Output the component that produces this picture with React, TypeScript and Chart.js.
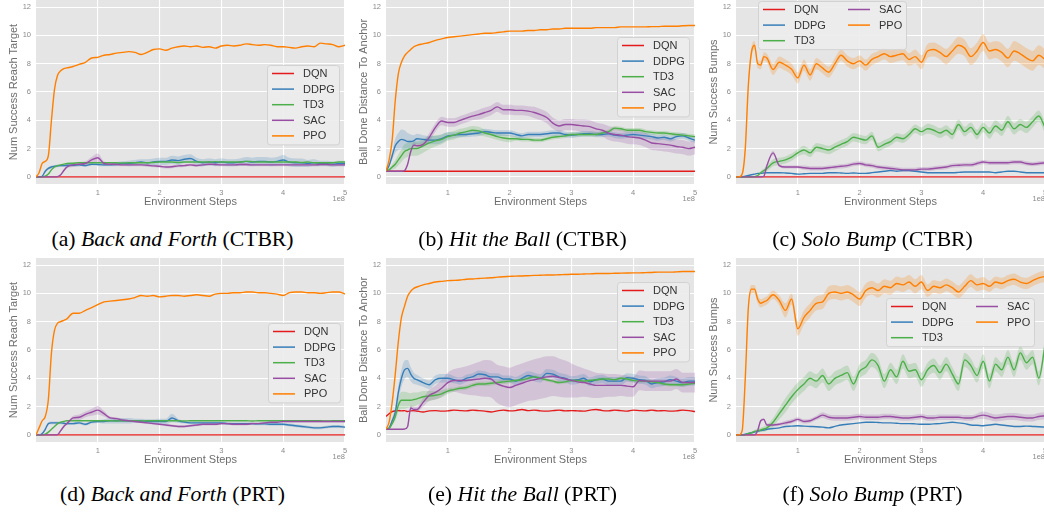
import React, { useEffect, useRef } from "react";
import { Chart, registerables } from "chart.js";

Chart.register(...registerables);

const SANS = '"Liberation Sans", Arial, sans-serif';
const SERIF = '"Liberation Serif", "Times New Roman", serif';
Chart.defaults.font.family = SANS;

// ---------- data ----------
const STEPS = [0, 0.05, 0.1, 0.15, 0.2, 0.25, 0.3, 0.35, 0.4, 0.45, 0.5,
  0.6, 0.7, 0.8, 0.9, 1.0,
  1.1, 1.2, 1.3, 1.4, 1.5, 1.6, 1.7, 1.8, 1.9, 2.0,
  2.1, 2.2, 2.3, 2.4, 2.5, 2.6, 2.7, 2.8, 2.9, 3.0,
  3.1, 3.2, 3.3, 3.4, 3.5, 3.6, 3.7, 3.8, 3.9, 4.0,
  4.1, 4.2, 4.3, 4.4, 4.5, 4.6, 4.7, 4.8, 4.9, 5.0];
const FLAT_STEPS = [0, 5];
const X_TICKS = [1, 2, 3, 4, 5];
const Y_TICKS = [0, 2, 4, 6, 8, 10, 12];
const ALGORITHMS = ["DQN", "DDPG", "TD3", "SAC", "PPO"];

// (a) Back and Forth (CTBR)
const A_DQN = [0, 0];
const A_DDPG = [0, 0, 0.05, 0.4, 0.6, 0.7, 0.75, 0.78, 0.8, 0.8, 0.82,
  0.82, 0.85, 0.8, 0.9, 0.88,
  0.85, 0.85, 0.9, 0.95, 0.95, 1.0, 1.05, 1.0, 1.05, 1.1,
  1.1, 1.2, 1.15, 1.25, 1.3, 1.1, 1.0, 1.05, 1.0, 1.05,
  1.0, 1.0, 1.05, 1.1, 1.05, 1.1, 1.1, 1.05, 1.1, 1.2,
  1.05, 1.0, 1.0, 0.95, 1.0, 0.95, 0.95, 0.9, 0.95, 0.95];
const A_DDPG_SD = [0, 0, 0.02, 0.1, 0.1, 0.1, 0.1, 0.1, 0.1, 0.1, 0.1,
  0.1, 0.1, 0.1, 0.1, 0.1,
  0.1, 0.1, 0.15, 0.15, 0.2, 0.2, 0.2, 0.25, 0.25, 0.25,
  0.25, 0.3, 0.3, 0.3, 0.3, 0.25, 0.25, 0.25, 0.25, 0.25,
  0.25, 0.25, 0.25, 0.3, 0.3, 0.3, 0.3, 0.3, 0.3, 0.35,
  0.3, 0.3, 0.3, 0.25, 0.25, 0.2, 0.2, 0.2, 0.2, 0.2];
const A_TD3 = [0, 0, 0, 0.05, 0.2, 0.5, 0.7, 0.8, 0.85, 0.9, 0.95,
  0.97, 1.0, 1.0, 1.0, 1.0,
  1.0, 1.0, 1.0, 0.98, 1.0, 1.0, 1.0, 1.0, 1.02, 1.05,
  1.05, 1.05, 1.02, 1.05, 1.05, 1.05, 1.05, 1.05, 1.08, 1.05,
  1.05, 1.05, 1.05, 1.1, 1.08, 1.05, 1.05, 1.05, 1.05, 1.05,
  1.05, 1.05, 1.02, 1.05, 1.0, 1.0, 1.0, 1.0, 1.05, 1.05];
const A_SAC = [0, 0, 0, 0, 0, 0, 0, 0.02, 0.15, 0.45, 0.7,
  0.85, 0.9, 0.95, 1.2, 1.35,
  0.95, 0.9, 0.88, 0.85, 0.85, 0.85, 0.85, 0.82, 0.78, 0.75,
  0.7, 0.72, 0.78, 0.8, 0.85, 0.8, 0.85, 0.9, 0.88, 0.85,
  0.85, 0.85, 0.88, 0.88, 0.85, 0.85, 0.85, 0.85, 0.85, 0.85,
  0.85, 0.85, 0.85, 0.85, 0.85, 0.88, 0.88, 0.85, 0.85, 0.85];
const A_SAC_SD = [0, 0, 0, 0, 0, 0, 0, 0, 0.05, 0.1, 0.1,
  0.15, 0.15, 0.15, 0.2, 0.3,
  0.15, 0.1, 0.1, 0.1, 0.1, 0.1, 0.1, 0.1, 0.1, 0.1,
  0.1, 0.1, 0.1, 0.1, 0.1, 0.1, 0.1, 0.1, 0.1, 0.1,
  0.1, 0.1, 0.1, 0.1, 0.1, 0.1, 0.1, 0.1, 0.1, 0.1,
  0.1, 0.1, 0.1, 0.1, 0.1, 0.1, 0.1, 0.1, 0.1, 0.1];
const A_PPO = [0, 0.3, 0.95, 1.1, 1.5, 4.0, 6.2, 7.2, 7.5, 7.65, 7.7,
  7.8, 7.95, 8.1, 8.4, 8.45,
  8.6, 8.65, 8.75, 8.8, 8.85, 8.8, 8.65, 8.8, 9.0, 9.05,
  8.95, 9.1, 9.2, 9.25, 9.2, 9.25, 9.15, 9.2, 9.1, 9.25,
  9.3, 9.25, 9.3, 9.4, 9.35, 9.3, 9.35, 9.3, 9.2, 9.2,
  9.15, 9.1, 9.2, 9.25, 9.2, 9.45, 9.4, 9.35, 9.2, 9.3];

// (b) Hit the Ball (CTBR)
const B_DQN = [0.4, 0.4];
const B_DDPG = [0.4, 0.8, 1.5, 2.2, 2.5, 2.65, 2.6, 2.5, 2.5, 2.55, 2.7,
  2.65, 2.6, 2.6, 2.7, 2.9,
  2.95, 3.0, 3.0, 3.05, 3.1, 3.2, 3.15, 3.1, 3.1, 3.1,
  3.0, 2.9, 3.0, 3.0, 3.0, 3.05, 3.1, 3.1, 3.0, 2.95,
  3.0, 3.05, 3.05, 3.0, 3.0, 3.05, 2.95, 2.9, 2.95, 3.0,
  2.95, 2.9, 2.85, 2.75, 2.8, 2.7, 2.85, 2.9, 2.75, 2.6];
const B_DDPG_SD = [0, 0.1, 0.3, 0.5, 0.6, 0.7, 0.7, 0.6, 0.5, 0.4, 0.35,
  0.3, 0.3, 0.3, 0.3, 0.25,
  0.2, 0.2, 0.2, 0.2, 0.2, 0.2, 0.2, 0.2, 0.2, 0.2,
  0.2, 0.2, 0.2, 0.2, 0.2, 0.2, 0.2, 0.2, 0.2, 0.2,
  0.2, 0.2, 0.2, 0.2, 0.2, 0.2, 0.2, 0.2, 0.2, 0.2,
  0.2, 0.2, 0.2, 0.2, 0.2, 0.2, 0.2, 0.2, 0.2, 0.2];
const B_TD3 = [0.4, 0.5, 0.7, 0.9, 1.2, 1.5, 1.8, 1.9, 2.0, 2.0, 2.0,
  2.2, 2.4, 2.55, 2.65, 2.85,
  2.95, 3.1, 3.2, 3.3, 3.25, 3.1, 3.0, 2.85, 2.75, 2.7,
  2.7, 2.65, 2.65, 2.6, 2.6, 2.7, 2.8, 2.85, 2.9, 3.0,
  3.0, 3.0, 3.0, 3.0, 3.1, 3.2, 3.45, 3.4, 3.3, 3.3,
  3.3, 3.2, 3.15, 3.1, 3.1, 3.05, 3.0, 2.95, 2.9, 2.85];
const B_TD3_SD = [0, 0.1, 0.2, 0.3, 0.4, 0.45, 0.5, 0.5, 0.5, 0.5, 0.5,
  0.5, 0.45, 0.4, 0.35, 0.3,
  0.3, 0.3, 0.3, 0.3, 0.3, 0.25, 0.25, 0.25, 0.25, 0.25,
  0.15, 0.15, 0.15, 0.15, 0.15, 0.15, 0.15, 0.15, 0.15, 0.15,
  0.15, 0.15, 0.15, 0.15, 0.15, 0.15, 0.15, 0.15, 0.15, 0.15,
  0.15, 0.15, 0.15, 0.15, 0.15, 0.15, 0.15, 0.15, 0.15, 0.15];
const B_SAC = [0.4, 0.4, 0.4, 0.4, 0.4, 0.4, 0.45, 0.9, 1.8, 2.25, 2.2,
  2.3, 2.8, 3.5, 3.95, 3.85,
  3.85, 4.0, 4.15, 4.3, 4.4, 4.55, 4.7, 4.95, 4.75, 4.75,
  4.7, 4.7, 4.65, 4.55, 4.4, 4.2, 3.8, 3.6, 3.7, 3.7,
  3.65, 3.6, 3.55, 3.4, 3.3, 3.1, 3.0, 2.95, 2.85, 2.8,
  2.75, 2.6, 2.4, 2.35, 2.3, 2.25, 2.15, 2.1, 2.0, 2.1];
const B_SAC_SD = [0, 0, 0, 0, 0, 0, 0, 0.1, 0.2, 0.2, 0.2,
  0.2, 0.3, 0.3, 0.3, 0.3,
  0.3, 0.3, 0.3, 0.3, 0.35, 0.35, 0.35, 0.35, 0.35, 0.35,
  0.35, 0.35, 0.35, 0.4, 0.4, 0.4, 0.4, 0.4, 0.4, 0.4,
  0.4, 0.45, 0.45, 0.45, 0.45, 0.5, 0.5, 0.5, 0.5, 0.5,
  0.5, 0.5, 0.5, 0.5, 0.5, 0.5, 0.5, 0.5, 0.5, 0.5];
const B_PPO = [0.4, 1.2, 2.6, 5.4, 7.3, 8.1, 8.55, 8.8, 9.0, 9.2, 9.3,
  9.4, 9.5, 9.65, 9.75, 9.85,
  9.9, 9.95, 10.0, 10.05, 10.1, 10.15, 10.15, 10.2, 10.25, 10.3,
  10.3, 10.3, 10.35, 10.35, 10.4, 10.4, 10.45, 10.45, 10.5, 10.5,
  10.5, 10.5, 10.5, 10.55, 10.55, 10.55, 10.55, 10.6, 10.6, 10.6,
  10.6, 10.6, 10.62, 10.62, 10.65, 10.65, 10.65, 10.68, 10.7, 10.7];

// (c) Solo Bump (CTBR)
const C_DQN = [0, 0];
const C_DDPG = [0, 0, 0, 0.05, 0.1, 0.15, 0.2, 0.25, 0.25, 0.28, 0.3,
  0.3, 0.3, 0.28, 0.25, 0.2,
  0.22, 0.25, 0.25, 0.25, 0.3, 0.3, 0.28, 0.25, 0.28, 0.25,
  0.25, 0.3, 0.35, 0.4, 0.45, 0.4, 0.45, 0.45, 0.4, 0.35,
  0.3, 0.3, 0.3, 0.3, 0.3, 0.32, 0.35, 0.35, 0.35, 0.35,
  0.35, 0.3, 0.35, 0.4, 0.4, 0.35, 0.3, 0.3, 0.3, 0.3];
const C_TD3 = [0, 0, 0, 0, 0, 0, 0.02, 0.1, 0.3, 0.45, 0.6,
  1.0, 1.1, 1.2, 1.4, 1.7,
  1.9, 1.7, 2.1, 2.0, 1.9, 2.1, 2.3, 2.5, 2.8, 2.7,
  2.6, 2.9, 2.1, 2.3, 2.5, 2.8, 2.7, 3.0, 3.4, 3.2,
  3.4, 3.3, 3.1, 3.3, 3.0, 3.7, 3.2, 3.5, 3.0, 3.5,
  3.1, 3.6, 3.3, 3.9, 3.4, 3.7, 3.5, 3.9, 4.3, 3.5];
const C_TD3_SD = [0, 0, 0, 0, 0, 0, 0, 0.05, 0.1, 0.15, 0.2,
  0.25, 0.25, 0.25, 0.25, 0.25,
  0.3, 0.3, 0.3, 0.3, 0.3, 0.3, 0.3, 0.3, 0.3, 0.3,
  0.3, 0.3, 0.3, 0.3, 0.3, 0.3, 0.3, 0.3, 0.3, 0.3,
  0.35, 0.35, 0.35, 0.35, 0.35, 0.35, 0.35, 0.35, 0.35, 0.35,
  0.4, 0.4, 0.4, 0.4, 0.4, 0.4, 0.4, 0.4, 0.4, 0.4];
const C_SAC = [0, 0, 0, 0, 0, 0, 0, 0, 0, 0.05, 0.8,
  1.7, 0.8, 0.7, 0.7, 0.7,
  0.65, 0.6, 0.6, 0.6, 0.65, 0.7, 0.75, 0.8, 0.9, 0.95,
  0.85, 0.8, 0.7, 0.65, 0.6, 0.55, 0.5, 0.5, 0.5, 0.55,
  0.55, 0.6, 0.65, 0.7, 0.8, 0.82, 0.85, 0.85, 0.95, 1.05,
  1.0, 1.0, 1.0, 1.0, 1.05, 1.05, 0.95, 0.9, 0.95, 1.0];
const C_SAC_SD = [0, 0, 0, 0, 0, 0, 0, 0, 0, 0, 0.05,
  0.15, 0.1, 0.1, 0.1, 0.1,
  0.15, 0.15, 0.15, 0.15, 0.15, 0.15, 0.15, 0.15, 0.15, 0.15,
  0.15, 0.15, 0.15, 0.15, 0.15, 0.15, 0.15, 0.15, 0.15, 0.15,
  0.15, 0.15, 0.15, 0.15, 0.15, 0.15, 0.15, 0.15, 0.15, 0.15,
  0.15, 0.15, 0.15, 0.15, 0.15, 0.15, 0.15, 0.15, 0.15, 0.15];
const C_PPO = [0, 0, 0.2, 2.0, 6.5, 8.8, 9.3, 8.0, 7.9, 8.5, 8.4,
  7.6, 8.1, 7.9, 7.6, 7.0,
  7.9, 7.2, 8.0, 7.7, 7.4, 8.0, 8.6, 8.2, 8.0, 8.2,
  7.9, 8.3, 8.5, 8.7, 8.5, 8.6, 8.7, 8.3, 8.5, 8.1,
  8.9, 9.0, 8.8, 8.5, 8.9, 9.3, 9.1, 8.5, 8.9, 9.5,
  8.9, 9.0, 8.8, 8.4, 8.9, 8.7, 8.4, 8.2, 8.6, 8.3];
const C_PPO_SD = [0, 0, 0.1, 0.3, 0.4, 0.4, 0.3, 0.3, 0.3, 0.3, 0.3,
  0.4, 0.4, 0.4, 0.4, 0.4,
  0.4, 0.4, 0.4, 0.4, 0.4, 0.4, 0.4, 0.4, 0.4, 0.4,
  0.4, 0.4, 0.4, 0.4, 0.45, 0.45, 0.45, 0.45, 0.5, 0.5,
  0.5, 0.5, 0.5, 0.55, 0.55, 0.6, 0.6, 0.6, 0.6, 0.6,
  0.6, 0.6, 0.65, 0.65, 0.7, 0.7, 0.7, 0.7, 0.7, 0.7];

// (d) Back and Forth (PRT)
const D_DQN = [0, 0];
const D_DDPG = [0, 0, 0.1, 0.4, 0.8, 0.85, 0.85, 0.85, 0.85, 0.82, 0.8,
  0.8, 0.85, 0.75, 0.9, 0.95,
  0.95, 1.0, 1.0, 1.0, 1.0, 1.0, 1.0, 0.95, 0.95, 0.95,
  0.95, 1.2, 1.0, 0.9, 0.85, 0.85, 0.85, 0.85, 0.85, 0.85,
  0.8, 0.8, 0.8, 0.8, 0.8, 0.78, 0.78, 0.75, 0.75, 0.75,
  0.7, 0.65, 0.6, 0.55, 0.5, 0.5, 0.55, 0.6, 0.6, 0.55];
const D_DDPG_SD = [0, 0, 0.05, 0.1, 0.1, 0.1, 0.1, 0.1, 0.1, 0.1, 0.1,
  0.1, 0.1, 0.1, 0.1, 0.1,
  0.15, 0.2, 0.2, 0.2, 0.2, 0.15, 0.15, 0.15, 0.15, 0.2,
  0.2, 0.3, 0.15, 0.1, 0.1, 0.1, 0.1, 0.1, 0.1, 0.1,
  0.1, 0.1, 0.1, 0.1, 0.1, 0.1, 0.1, 0.1, 0.1, 0.1,
  0.1, 0.1, 0.1, 0.1, 0.1, 0.1, 0.1, 0.1, 0.1, 0.1];
const D_TD3 = [0, 0, 0, 0.05, 0.2, 0.4, 0.6, 0.8, 0.9, 0.95, 1.0,
  1.0, 1.0, 1.0, 1.0, 1.0,
  1.0, 1.0, 0.98, 1.0, 1.0, 1.0, 0.98, 1.0, 1.0, 1.0,
  1.0, 1.0, 1.0, 0.98, 1.0, 1.0, 1.0, 1.0, 1.0, 1.0,
  1.0, 1.0, 1.0, 1.0, 0.98, 1.0, 1.0, 1.0, 1.0, 1.0,
  1.0, 1.0, 1.0, 1.0, 1.0, 1.0, 0.98, 1.0, 1.0, 1.0];
const D_SAC = [0, 0, 0, 0, 0, 0, 0, 0.02, 0.3, 0.6, 0.8,
  1.2, 1.25, 1.45, 1.6, 1.75,
  1.5, 1.2, 1.15, 1.05, 1.0, 0.95, 0.9, 0.85, 0.8, 0.75,
  0.7, 0.65, 0.6, 0.6, 0.65, 0.7, 0.75, 0.75, 0.75, 0.8,
  0.8, 0.75, 0.75, 0.75, 0.8, 0.8, 0.85, 0.9, 0.9, 0.95,
  0.95, 0.95, 0.95, 0.95, 0.95, 0.95, 0.95, 0.95, 0.95, 0.95];
const D_SAC_SD = [0, 0, 0, 0, 0, 0, 0, 0, 0.05, 0.1, 0.1,
  0.15, 0.2, 0.2, 0.25, 0.3,
  0.2, 0.1, 0.1, 0.1, 0.08, 0.08, 0.08, 0.08, 0.08, 0.08,
  0.08, 0.08, 0.08, 0.08, 0.08, 0.08, 0.08, 0.08, 0.08, 0.08,
  0.08, 0.08, 0.08, 0.08, 0.08, 0.08, 0.08, 0.08, 0.08, 0.08,
  0.08, 0.08, 0.08, 0.08, 0.08, 0.08, 0.08, 0.08, 0.08, 0.08];
const D_PPO = [0, 0.5, 1.0, 1.3, 2.5, 5.8, 7.4, 7.9, 8.0, 8.1, 8.2,
  8.6, 8.6, 8.8, 9.0, 9.2,
  9.4, 9.45, 9.5, 9.55, 9.6, 9.7, 9.85, 9.8, 9.85, 9.75,
  9.8, 9.85, 9.85, 9.8, 9.85, 9.9, 9.85, 9.8, 9.95, 10.0,
  10.0, 10.05, 10.05, 10.1, 10.1, 10.05, 10.05, 10.0, 9.95, 9.85,
  10.05, 10.1, 10.1, 10.05, 10.05, 10.0, 10.05, 10.1, 10.1, 9.95];

// (e) Hit the Ball (PRT)
const E_DQN = [1.3, 1.5, 1.65, 1.7, 1.72, 1.7, 1.72, 1.65, 1.7, 1.72, 1.68,
  1.62, 1.7, 1.72, 1.68, 1.7,
  1.75, 1.72, 1.7, 1.75, 1.72, 1.68, 1.62, 1.7, 1.75, 1.7,
  1.72, 1.8, 1.72, 1.75, 1.7, 1.68, 1.72, 1.75, 1.7, 1.72,
  1.7, 1.68, 1.75, 1.8, 1.72, 1.7, 1.75, 1.72, 1.68, 1.75,
  1.72, 1.7, 1.75, 1.7, 1.72, 1.68, 1.7, 1.75, 1.72, 1.65];
const E_DDPG = [0.4, 0.5, 1.0, 1.6, 3.0, 4.0, 4.6, 4.7, 4.3, 4.0, 3.9,
  3.7, 3.55, 3.9, 4.0, 4.0,
  3.9, 3.8, 4.0, 4.1, 4.3, 4.25, 4.1, 4.1, 3.95, 3.95,
  3.8, 4.0, 4.2, 4.1, 4.0, 4.35, 4.3, 4.1, 4.0, 3.85,
  3.9, 4.0, 3.75, 3.9, 3.95, 3.8, 3.8, 3.8, 4.05, 4.0,
  3.9, 3.85, 3.6, 3.7, 3.75, 3.9, 3.8, 3.7, 3.8, 3.8];
const E_DDPG_SD = [0, 0.05, 0.2, 0.4, 0.5, 0.6, 0.65, 0.6, 0.5, 0.4, 0.35,
  0.3, 0.3, 0.3, 0.3, 0.3,
  0.25, 0.25, 0.25, 0.25, 0.25, 0.25, 0.25, 0.25, 0.25, 0.25,
  0.3, 0.3, 0.3, 0.3, 0.3, 0.3, 0.3, 0.3, 0.3, 0.3,
  0.3, 0.3, 0.3, 0.3, 0.3, 0.3, 0.3, 0.3, 0.3, 0.3,
  0.3, 0.3, 0.3, 0.3, 0.3, 0.3, 0.3, 0.3, 0.3, 0.3];
const E_TD3 = [0.4, 0.45, 0.8, 1.3, 2.1, 2.45, 2.45, 2.45, 2.45, 2.5, 2.55,
  2.7, 2.75, 2.8, 2.9, 3.1,
  3.2, 3.3, 3.35, 3.5, 3.6, 3.6, 3.65, 3.7, 3.75, 3.8,
  3.85, 3.9, 4.0, 4.1, 4.0, 3.9, 3.8, 3.7, 3.75, 3.85,
  3.85, 3.8, 3.85, 3.9, 3.95, 3.95, 3.9, 4.0, 3.95, 3.85,
  3.8, 3.8, 3.75, 3.7, 3.6, 3.55, 3.55, 3.55, 3.6, 3.65];
const E_TD3_SD = [0, 0.05, 0.1, 0.3, 0.5, 0.6, 0.6, 0.55, 0.5, 0.5, 0.45,
  0.4, 0.35, 0.3, 0.25, 0.2,
  0.15, 0.15, 0.15, 0.15, 0.15, 0.15, 0.15, 0.15, 0.15, 0.15,
  0.12, 0.12, 0.12, 0.12, 0.12, 0.12, 0.12, 0.12, 0.12, 0.12,
  0.12, 0.12, 0.12, 0.12, 0.12, 0.12, 0.12, 0.12, 0.12, 0.12,
  0.12, 0.12, 0.12, 0.12, 0.12, 0.12, 0.12, 0.12, 0.12, 0.12];
const E_SAC = [0.4, 0.4, 0.4, 0.4, 0.4, 0.4, 0.42, 0.6, 1.9, 1.8, 1.8,
  2.3, 2.8, 3.0, 3.3, 3.7,
  3.85, 3.85, 3.85, 3.9, 3.95, 4.0, 3.95, 3.6, 3.45, 3.35,
  3.5, 3.65, 3.8, 3.9, 4.0, 4.1, 4.15, 4.05, 3.95, 3.85,
  3.75, 3.7, 3.6, 3.5, 3.5, 3.5, 3.5, 3.5, 3.45, 3.4,
  3.85, 3.8, 3.8, 3.8, 3.8, 3.8, 3.95, 3.7, 3.7, 3.7];
const E_SAC_SD = [0, 0, 0, 0, 0, 0, 0, 0.1, 0.2, 0.2, 0.2,
  0.3, 0.4, 0.5, 0.6, 0.7,
  0.8, 0.9, 1.0, 1.1, 1.2, 1.3, 1.3, 1.35, 1.4, 1.4,
  1.4, 1.4, 1.4, 1.45, 1.45, 1.45, 1.4, 1.35, 1.3, 1.2,
  1.1, 1.0, 0.95, 0.9, 0.85, 0.8, 0.8, 0.75, 0.75, 0.7,
  0.7, 0.7, 0.7, 0.7, 0.7, 0.7, 0.7, 0.7, 0.7, 0.7];
const E_PPO = [0.4, 0.9, 2.3, 4.3, 6.6, 8.3, 9.1, 9.8, 10.15, 10.35, 10.45,
  10.6, 10.7, 10.8, 10.85, 10.9,
  10.92, 10.95, 11.0, 11.02, 11.05, 11.08, 11.1, 11.15, 11.18, 11.2,
  11.22, 11.23, 11.25, 11.27, 11.28, 11.3, 11.3, 11.32, 11.33, 11.35,
  11.35, 11.37, 11.38, 11.4, 11.4, 11.4, 11.42, 11.43, 11.44, 11.45,
  11.45, 11.47, 11.48, 11.5, 11.5, 11.5, 11.52, 11.55, 11.55, 11.55];

// (f) Solo Bump (PRT)
const F_DQN = [0, 0];
const F_DDPG = [0, 0, 0, 0.05, 0.1, 0.15, 0.2, 0.25, 0.3, 0.35, 0.4,
  0.45, 0.5, 0.6, 0.62, 0.65,
  0.62, 0.6, 0.58, 0.55, 0.5, 0.6, 0.7, 0.75, 0.8, 0.85,
  0.9, 0.9, 0.88, 0.85, 0.85, 0.82, 0.8, 0.8, 0.78, 0.75,
  0.75, 0.78, 0.8, 0.85, 0.9, 0.85, 0.8, 0.7, 0.68, 0.65,
  0.7, 0.75, 0.7, 0.65, 0.6, 0.6, 0.62, 0.6, 0.58, 0.55];
const F_TD3 = [0, 0, 0, 0.02, 0.1, 0.15, 0.25, 0.3, 0.35, 0.42, 0.5,
  0.9, 1.5, 2.1, 2.7, 3.2,
  3.6, 4.0, 3.8, 4.2, 3.6, 4.0, 4.2, 4.4, 3.6, 4.5,
  4.8, 5.3, 4.9, 3.8, 4.6, 4.1, 5.2, 4.5, 4.6, 3.9,
  4.6, 4.9, 4.4, 5.0, 4.3, 3.6, 5.3, 4.9, 4.2, 5.2,
  3.8, 5.0, 4.6, 5.5, 4.6, 5.8, 5.1, 5.5, 4.0, 6.3];
const F_TD3_SD = [0, 0, 0, 0, 0.05, 0.1, 0.1, 0.15, 0.15, 0.2, 0.2,
  0.3, 0.4, 0.5, 0.5, 0.5,
  0.5, 0.5, 0.5, 0.5, 0.5, 0.5, 0.5, 0.5, 0.5, 0.5,
  0.5, 0.5, 0.5, 0.5, 0.5, 0.5, 0.5, 0.5, 0.5, 0.5,
  0.5, 0.5, 0.5, 0.5, 0.5, 0.5, 0.5, 0.5, 0.5, 0.5,
  0.5, 0.5, 0.5, 0.5, 0.5, 0.5, 0.5, 0.5, 0.5, 0.5];
const F_SAC = [0, 0, 0, 0, 0, 0, 0, 0.3, 1.0, 1.1, 0.7,
  0.7, 0.75, 0.85, 0.95, 1.1,
  0.95, 1.0, 1.2, 1.4, 1.25, 1.2, 1.2, 1.2, 1.25, 1.3,
  1.25, 1.25, 1.25, 1.3, 1.3, 1.25, 1.2, 1.2, 1.25, 1.3,
  1.2, 1.2, 1.25, 1.25, 1.25, 1.25, 1.2, 1.2, 1.3, 1.4,
  1.3, 1.2, 1.25, 1.3, 1.3, 1.25, 1.2, 1.2, 1.3, 1.35];
const F_SAC_SD = [0, 0, 0, 0, 0, 0, 0, 0, 0.1, 0.1, 0.1,
  0.1, 0.1, 0.15, 0.15, 0.15,
  0.15, 0.15, 0.15, 0.2, 0.2, 0.2, 0.2, 0.2, 0.2, 0.2,
  0.2, 0.2, 0.2, 0.2, 0.2, 0.2, 0.2, 0.2, 0.2, 0.2,
  0.2, 0.2, 0.2, 0.2, 0.2, 0.2, 0.2, 0.2, 0.2, 0.25,
  0.25, 0.25, 0.25, 0.25, 0.25, 0.25, 0.25, 0.25, 0.25, 0.25];
const F_PPO = [0, 0, 0.3, 4.0, 9.0, 10.3, 10.3, 9.6, 9.3, 9.4, 9.5,
  9.9, 9.5, 8.8, 9.6, 7.5,
  8.3, 8.8, 9.3, 9.4, 10.0, 10.1, 10.0, 10.1, 9.9, 9.6,
  10.2, 10.4, 10.2, 10.5, 10.4, 10.7, 10.6, 10.8, 10.5, 10.8,
  10.2, 10.5, 10.4, 10.6, 10.4, 10.1, 10.5, 10.9, 10.6, 10.7,
  10.5, 10.8, 10.7, 10.9, 11.0, 10.8, 10.7, 10.9, 11.1, 11.2];
const F_PPO_SD = [0, 0, 0.1, 0.3, 0.4, 0.3, 0.3, 0.3, 0.3, 0.3, 0.3,
  0.3, 0.35, 0.5, 0.4, 0.5,
  0.5, 0.5, 0.5, 0.5, 0.5, 0.5, 0.5, 0.5, 0.5, 0.5,
  0.5, 0.5, 0.5, 0.5, 0.5, 0.5, 0.5, 0.5, 0.5, 0.5,
  0.45, 0.45, 0.45, 0.45, 0.45, 0.45, 0.45, 0.45, 0.45, 0.45,
  0.4, 0.4, 0.4, 0.4, 0.4, 0.4, 0.4, 0.4, 0.4, 0.4];

// ---------- styles ----------
const COLORS: Record<string, string> = {
  DQN: "#E41A1C",
  DDPG: "#377EB8",
  TD3: "#4DAF4A",
  SAC: "#984EA3",
  PPO: "#FF7F00",
};
const BAND_ALPHA = 0.22;
const TICK_COLOR = "#8a8a8a";
const TITLE_COLOR = "#6e6e6e";

type SeriesDef = { algo: string; x: number[]; y: number[]; sd?: number[] };
type PanelDef = {
  left: number;
  top: number;
  captionTop: number;
  yLabel: string;
  caption: [string, string, string];
  legend: { dx: number; dy: number; cols: number };
  series: SeriesDef[];
};

const PANELS: PanelDef[] = [
  {
    left: 0, top: 0, captionTop: 227,
    yLabel: "Num Success Reach Target",
    caption: ["(a) ", "Back and Forth", " (CTBR)"],
    legend: { dx: 231, dy: 65, cols: 1 },
    series: [
      { algo: ALGORITHMS[0], x: FLAT_STEPS, y: A_DQN },
      { algo: ALGORITHMS[1], x: STEPS, y: A_DDPG, sd: A_DDPG_SD },
      { algo: ALGORITHMS[2], x: STEPS, y: A_TD3 },
      { algo: ALGORITHMS[3], x: STEPS, y: A_SAC, sd: A_SAC_SD },
      { algo: ALGORITHMS[4], x: STEPS, y: A_PPO },
    ],
  },
  {
    left: 350, top: 0, captionTop: 227,
    yLabel: "Ball Done Distance To Anchor",
    caption: ["(b) ", "Hit the Ball", " (CTBR)"],
    legend: { dx: 231, dy: 37, cols: 1 },
    series: [
      { algo: ALGORITHMS[0], x: FLAT_STEPS, y: B_DQN },
      { algo: ALGORITHMS[1], x: STEPS, y: B_DDPG, sd: B_DDPG_SD },
      { algo: ALGORITHMS[2], x: STEPS, y: B_TD3, sd: B_TD3_SD },
      { algo: ALGORITHMS[3], x: STEPS, y: B_SAC, sd: B_SAC_SD },
      { algo: ALGORITHMS[4], x: STEPS, y: B_PPO },
    ],
  },
  {
    left: 700, top: 0, captionTop: 227,
    yLabel: "Num Success Bumps",
    caption: ["(c) ", "Solo Bump", " (CTBR)"],
    legend: { dx: 22, dy: 1, cols: 2 },
    series: [
      { algo: ALGORITHMS[0], x: FLAT_STEPS, y: C_DQN },
      { algo: ALGORITHMS[1], x: STEPS, y: C_DDPG },
      { algo: ALGORITHMS[2], x: STEPS, y: C_TD3, sd: C_TD3_SD },
      { algo: ALGORITHMS[3], x: STEPS, y: C_SAC, sd: C_SAC_SD },
      { algo: ALGORITHMS[4], x: STEPS, y: C_PPO, sd: C_PPO_SD },
    ],
  },
  {
    left: 0, top: 258, captionTop: 482,
    yLabel: "Num Success Reach Target",
    caption: ["(d) ", "Back and Forth", " (PRT)"],
    legend: { dx: 232, dy: 65, cols: 1 },
    series: [
      { algo: ALGORITHMS[0], x: FLAT_STEPS, y: D_DQN },
      { algo: ALGORITHMS[1], x: STEPS, y: D_DDPG, sd: D_DDPG_SD },
      { algo: ALGORITHMS[2], x: STEPS, y: D_TD3 },
      { algo: ALGORITHMS[3], x: STEPS, y: D_SAC, sd: D_SAC_SD },
      { algo: ALGORITHMS[4], x: STEPS, y: D_PPO },
    ],
  },
  {
    left: 350, top: 258, captionTop: 482,
    yLabel: "Ball Done Distance To Anchor",
    caption: ["(e) ", "Hit the Ball", " (PRT)"],
    legend: { dx: 231, dy: 24, cols: 1 },
    series: [
      { algo: ALGORITHMS[0], x: STEPS, y: E_DQN },
      { algo: ALGORITHMS[1], x: STEPS, y: E_DDPG, sd: E_DDPG_SD },
      { algo: ALGORITHMS[2], x: STEPS, y: E_TD3, sd: E_TD3_SD },
      { algo: ALGORITHMS[3], x: STEPS, y: E_SAC, sd: E_SAC_SD },
      { algo: ALGORITHMS[4], x: STEPS, y: E_PPO },
    ],
  },
  {
    left: 700, top: 258, captionTop: 482,
    yLabel: "Num Success Bumps",
    caption: ["(f) ", "Solo Bump", " (PRT)"],
    legend: { dx: 150, dy: 40, cols: 2 },
    series: [
      { algo: ALGORITHMS[0], x: FLAT_STEPS, y: F_DQN },
      { algo: ALGORITHMS[1], x: STEPS, y: F_DDPG },
      { algo: ALGORITHMS[2], x: STEPS, y: F_TD3, sd: F_TD3_SD },
      { algo: ALGORITHMS[3], x: STEPS, y: F_SAC, sd: F_SAC_SD },
      { algo: ALGORITHMS[4], x: STEPS, y: F_PPO, sd: F_PPO_SD },
    ],
  },
];

// ---------- layout constants ----------
const Y_AXIS_W = 36;
const PLOT_W = 309;
const PLOT_H = 184;
const X_AXIS_H = 25;
const PAD_RIGHT = 12;
const CANVAS_W = Y_AXIS_W + PLOT_W + PAD_RIGHT;
const CANVAS_H = PLOT_H + X_AXIS_H;

function hexToRgba(hex: string, a: number) {
  const n = parseInt(hex.slice(1), 16);
  return `rgba(${(n >> 16) & 255},${(n >> 8) & 255},${n & 255},${a})`;
}

function roundRect(ctx: CanvasRenderingContext2D, x: number, y: number, w: number, h: number, r: number) {
  ctx.beginPath();
  ctx.moveTo(x + r, y);
  ctx.lineTo(x + w - r, y);
  ctx.arcTo(x + w, y, x + w, y + r, r);
  ctx.lineTo(x + w, y + h - r);
  ctx.arcTo(x + w, y + h, x + w - r, y + h, r);
  ctx.lineTo(x + r, y + h);
  ctx.arcTo(x, y + h, x, y + h - r, r);
  ctx.lineTo(x, y + r);
  ctx.arcTo(x, y, x + r, y, r);
  ctx.closePath();
}

function Panel({ p }: { p: PanelDef }) {
  const ref = useRef<HTMLCanvasElement | null>(null);

  useEffect(() => {
    if (!ref.current) return;
    const datasets: any[] = [];
    p.series.forEach((s) => {
      if (!s.sd) return;
      const fillColor = hexToRgba(COLORS[s.algo], BAND_ALPHA);
      datasets.push({
        label: s.algo + " upper",
        isBand: true,
        data: s.x.map((x, i) => ({ x, y: s.y[i] + (s.sd as number[])[i] })),
        borderColor: "rgba(0,0,0,0)",
        backgroundColor: fillColor,
        borderWidth: 0,
        pointRadius: 0,
        fill: false,
        order: 20,
        cubicInterpolationMode: "monotone",
      });
      datasets.push({
        label: s.algo + " lower",
        isBand: true,
        data: s.x.map((x, i) => ({ x, y: s.y[i] - (s.sd as number[])[i] })),
        borderColor: "rgba(0,0,0,0)",
        backgroundColor: fillColor,
        borderWidth: 0,
        pointRadius: 0,
        fill: "-1",
        order: 20,
        cubicInterpolationMode: "monotone",
      });
    });
    p.series.forEach((s, k) => {
      datasets.push({
        label: s.algo,
        isBand: false,
        data: s.x.map((x, i) => ({ x, y: s.y[i] })),
        borderColor: COLORS[s.algo],
        backgroundColor: COLORS[s.algo],
        borderWidth: 1.4,
        pointRadius: 0,
        fill: false,
        order: 10 - k,
        cubicInterpolationMode: "monotone",
      });
    });

    const bgPlugin = {
      id: "axesBg",
      beforeDraw(chart: any) {
        const { ctx, chartArea: a } = chart;
        ctx.save();
        ctx.fillStyle = "#E5E5E5";
        ctx.fillRect(a.left, a.top, a.right - a.left, a.bottom - a.top);
        ctx.restore();
      },
      afterDraw(chart: any) {
        const { ctx, chartArea: a } = chart;
        ctx.save();
        ctx.fillStyle = TICK_COLOR;
        ctx.font = `7.5px ${SANS}`;
        ctx.textAlign = "right";
        ctx.textBaseline = "middle";
        ctx.fillText("1e8", a.right, a.bottom + 15);
        ctx.restore();
      },
    };

    const legendPlugin = {
      id: "boxLegend",
      afterDatasetsDraw(chart: any) {
        const { ctx, chartArea: a } = chart;
        const items = chart.data.datasets.filter((d: any) => !d.isBand);
        const cols = p.legend.cols;
        const rows = Math.ceil(items.length / cols);
        const rowH = 15.6;
        const padV = 8.5;
        const colW = 85;
        const w = cols === 1 ? 72 : 148;
        const h = padV * 2 + (rows - 1) * rowH;
        const x0 = a.left + p.legend.dx;
        const y0 = a.top + p.legend.dy;
        ctx.save();
        roundRect(ctx, x0 + 0.5, y0 + 0.5, w, h, 3);
        ctx.fillStyle = "rgba(236,236,236,0.9)";
        ctx.fill();
        ctx.strokeStyle = "#d2d2d2";
        ctx.lineWidth = 1;
        ctx.stroke();
        ctx.font = `11px ${SANS}`;
        ctx.textBaseline = "middle";
        ctx.textAlign = "left";
        items.forEach((d: any, i: number) => {
          const c = Math.floor(i / rows);
          const r = i % rows;
          const cx = x0 + c * colW;
          const cy = y0 + padV + r * rowH;
          ctx.strokeStyle = d.borderColor;
          ctx.lineWidth = 1.5;
          ctx.beginPath();
          ctx.moveTo(cx + 5, cy);
          ctx.lineTo(cx + 27, cy);
          ctx.stroke();
          ctx.fillStyle = "#333";
          ctx.fillText(d.label, cx + 36, cy + 0.5);
        });
        ctx.restore();
      },
    };

    const chart = new Chart(ref.current, {
      type: "line",
      data: { datasets },
      plugins: [bgPlugin, legendPlugin],
      options: {
        animation: false,
        responsive: false,
        layout: { padding: { left: 0, top: 0, right: PAD_RIGHT, bottom: 0 } },
        plugins: {
          legend: { display: false },
          tooltip: { enabled: false },
        },
        scales: {
          x: {
            type: "linear",
            min: 0,
            max: 5,
            afterBuildTicks: (s: any) => {
              s.ticks = X_TICKS.map((v) => ({ value: v }));
            },
            afterFit: (s: any) => {
              s.height = X_AXIS_H;
              s.paddingLeft = 0;
              s.paddingRight = 0;
            },
            ticks: {
              autoSkip: false,
              maxRotation: 0,
              padding: 4,
              color: TICK_COLOR,
              font: { size: 7.5, family: SANS },
              callback: (v: any) => String(v),
            },
            grid: { color: "#ffffff", lineWidth: 1.1, drawTicks: false },
            border: { display: false },
            title: {
              display: true,
              text: "Environment Steps",
              color: TITLE_COLOR,
              font: { size: 11, family: SANS },
              padding: { top: 0, bottom: 0 },
            },
          },
          y: {
            type: "linear",
            min: -0.5,
            max: 12.5,
            afterBuildTicks: (s: any) => {
              s.ticks = Y_TICKS.map((v) => ({ value: v }));
            },
            afterFit: (s: any) => {
              s.width = Y_AXIS_W;
              s.paddingTop = 0;
              s.paddingBottom = 0;
            },
            ticks: {
              autoSkip: false,
              padding: 5,
              color: TICK_COLOR,
              font: { size: 7.5, family: SANS },
              callback: (v: any) => String(v),
            },
            grid: { color: "#ffffff", lineWidth: 1.1, drawTicks: false },
            border: { display: false },
            title: {
              display: true,
              text: p.yLabel,
              color: TITLE_COLOR,
              font: { size: 11, family: SANS },
              padding: { top: 7, bottom: 0 },
            },
          },
        },
      } as any,
    });
    return () => chart.destroy();
  }, [p]);

  return (
    <>
      <canvas
        ref={ref}
        width={CANVAS_W}
        height={CANVAS_H}
        style={{ position: "absolute", left: p.left, top: p.top, width: CANVAS_W, height: CANVAS_H }}
      />
      <div
        style={{
          position: "absolute",
          left: p.left,
          top: p.captionTop,
          width: 345,
          textAlign: "center",
          fontFamily: SERIF,
          fontSize: 21.7,
          lineHeight: "24px",
          color: "#000",
          whiteSpace: "nowrap",
        }}
      >
        {p.caption[0]}
        <i>{p.caption[1]}</i>
        {p.caption[2]}
      </div>
    </>
  );
}

export default function App() {
  return (
    <div
      style={{
        position: "fixed",
        left: 0,
        top: 0,
        width: 1044,
        height: 512,
        background: "#fff",
        overflow: "hidden",
      }}
    >
      {PANELS.map((p, i) => (
        <Panel key={i} p={p} />
      ))}
    </div>
  );
}
